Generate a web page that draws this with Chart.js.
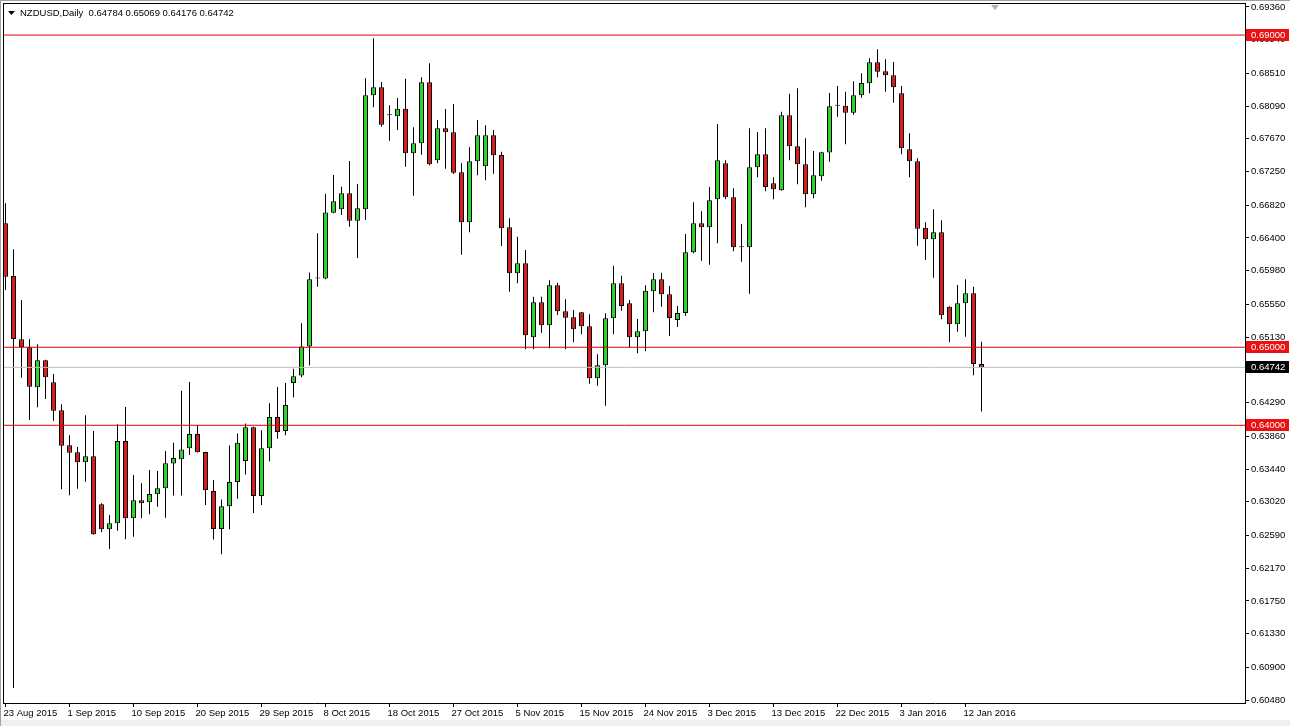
<!DOCTYPE html>
<html><head><meta charset="utf-8">
<script src="https://cdn.jsdelivr.net/npm/chart.js@4.4.1/dist/chart.umd.min.js"></script>
<style>html,body{margin:0;padding:0;background:#fff;overflow:hidden}#wrap{position:relative;width:1290px;height:726px}</style>
</head><body><div id="wrap"><canvas id="c" width="1290" height="726"></canvas></div>
<script>
const chartTitle = 'NZDUSD,Daily  0.64784 0.65069 0.64176 0.64742';
const openPrices = [0.66588,0.65913,0.65102,0.64999,0.64487,0.64833,0.64551,0.64192,0.63744,0.63654,
0.63526,0.63603,0.62988,0.62667,0.62744,0.63799,0.62808,0.63039,0.63013,0.63116,
0.63193,0.63512,0.63564,0.63706,0.63888,0.63658,0.63158,0.62671,0.62962,0.63273,
0.63542,0.63976,0.63094,0.63706,0.64106,0.63927,0.64542,0.64638,0.65010,0.65880,
0.65880,0.66724,0.66768,0.66973,0.66622,0.66768,0.68229,0.68331,0.67972,0.67959,
0.68057,0.67485,0.67613,0.68395,0.67396,0.67806,0.67754,0.67242,0.66601,0.67383,
0.67319,0.67716,0.67464,0.66537,0.65948,0.66076,0.65128,0.65576,0.65281,0.65794,
0.65461,0.65384,0.65448,0.65268,0.64602,0.64769,0.65371,0.65820,0.65563,0.65128,
0.65204,0.65717,0.65871,0.65679,0.65349,0.65439,0.66217,0.66588,0.66537,0.66896,
0.67357,0.66921,0.66281,0.66281,0.67306,0.67473,0.67101,0.67011,0.67972,0.67575,
0.67344,0.66960,0.67191,0.67496,0.68095,0.68095,0.68006,0.68229,0.68382,0.68651,
0.68536,0.68485,0.68254,0.67537,0.67383,0.66532,0.66383,0.66473,0.65520,0.65294,
0.65563,0.65691,0.64784];
const highPrices = [0.66845,0.66255,0.65606,0.65102,0.65038,0.64840,0.64657,0.64269,0.63872,0.63722,
0.64128,0.63927,0.63000,0.62850,0.64013,0.64234,0.63363,0.63257,0.63427,0.63414,
0.63671,0.63776,0.64443,0.64555,0.64001,0.63660,0.63299,0.63049,0.63741,0.63894,
0.64023,0.63980,0.63936,0.64283,0.64491,0.64542,0.64724,0.65308,0.65958,0.66460,
0.66966,0.67207,0.67057,0.67387,0.67092,0.68446,0.68959,0.68399,0.68100,0.68194,
0.68441,0.67818,0.68459,0.68639,0.67912,0.68053,0.68117,0.67357,0.67562,0.67912,
0.67844,0.67784,0.67506,0.66652,0.66417,0.66246,0.65648,0.65648,0.65858,0.65827,
0.65614,0.65477,0.65452,0.65422,0.64910,0.65435,0.66045,0.65917,0.65606,0.65362,
0.65794,0.65951,0.65955,0.65785,0.65529,0.66451,0.66857,0.66742,0.67054,0.67861,
0.67396,0.67037,0.66579,0.67806,0.67758,0.67806,0.67178,0.68018,0.68249,0.68318,
0.67678,0.67515,0.67506,0.68258,0.68348,0.68275,0.68408,0.68510,0.68703,0.68818,
0.68690,0.68655,0.68348,0.67742,0.67421,0.66601,0.66768,0.66627,0.65525,0.65798,
0.65871,0.65776,0.65069];
const lowPrices = [0.65734,0.60634,0.64610,0.64068,0.64231,0.64337,0.64059,0.63180,0.63103,0.63188,
0.63277,0.62598,0.62629,0.62415,0.62649,0.62539,0.62572,0.62808,0.62859,0.62957,
0.62816,0.63100,0.63100,0.63619,0.63652,0.62979,0.62538,0.62347,0.62668,0.63058,
0.63369,0.62876,0.62979,0.63537,0.63828,0.63872,0.64356,0.64616,0.64767,0.65776,
0.65871,0.66717,0.66695,0.66545,0.66144,0.66631,0.68075,0.67826,0.67647,0.67784,
0.67314,0.66942,0.67467,0.67332,0.67357,0.67288,0.67220,0.66186,0.66473,0.67203,
0.67139,0.67224,0.66298,0.65712,0.65820,0.64974,0.64974,0.65187,0.64987,0.65413,
0.64974,0.65063,0.65166,0.64533,0.64507,0.64251,0.65166,0.65468,0.64999,0.64923,
0.64948,0.65448,0.65520,0.65144,0.65260,0.65400,0.66204,0.66109,0.66058,0.66332,
0.66896,0.66230,0.66096,0.65686,0.67178,0.66998,0.66896,0.67005,0.67396,0.67088,
0.66793,0.66909,0.67134,0.67378,0.67954,0.67601,0.67980,0.68198,0.68254,0.68459,
0.68275,0.68134,0.67473,0.67178,0.66301,0.66118,0.65891,0.65358,0.65063,0.65199,
0.65135,0.64641,0.64176];
const closePrices = [0.65904,0.65106,0.64999,0.64494,0.64833,0.64615,0.64187,0.63738,0.63649,0.63526,
0.63603,0.62603,0.62667,0.62744,0.63799,0.62808,0.63039,0.63000,0.63120,0.63193,
0.63513,0.63581,0.63690,0.63888,0.63655,0.63171,0.62671,0.62962,0.63273,0.63776,
0.63976,0.63094,0.63706,0.64106,0.63914,0.64260,0.64629,0.65010,0.65871,0.65880,
0.66728,0.66870,0.66973,0.66622,0.66781,0.68229,0.68331,0.67852,0.67972,0.68057,
0.67485,0.67613,0.68395,0.67344,0.67806,0.67754,0.67237,0.66601,0.67383,0.67716,
0.67716,0.67460,0.66524,0.65948,0.66076,0.65153,0.65576,0.65281,0.65794,0.65461,
0.65379,0.65230,0.65268,0.64602,0.64769,0.65371,0.65820,0.65529,0.65128,0.65204,
0.65725,0.65871,0.65679,0.65375,0.65439,0.66217,0.66588,0.66537,0.66883,0.67396,
0.66921,0.66281,0.66281,0.67306,0.67473,0.67054,0.67024,0.67972,0.67575,0.67344,
0.66960,0.67203,0.67498,0.68088,0.68095,0.68006,0.68229,0.68386,0.68651,0.68531,
0.68485,0.68331,0.67549,0.67383,0.66519,0.66383,0.66473,0.65409,0.65294,0.65563,
0.65691,0.64784,0.64742];
const dateTickIndex = [0,8,16,24,32,40,48,56,64,72,80,88,96,104,112,120];
const dateTickLabels = ['23 Aug 2015','1 Sep 2015','10 Sep 2015','20 Sep 2015','29 Sep 2015','8 Oct 2015','18 Oct 2015','27 Oct 2015','5 Nov 2015','15 Nov 2015','24 Nov 2015','3 Dec 2015','13 Dec 2015','22 Dec 2015','3 Jan 2016','12 Jan 2016'];
const priceTicks = [0.69360,0.68940,0.68510,0.68090,0.67670,0.67250,0.66820,0.66400,0.65980,0.65550,0.65130,0.64710,0.64290,0.63860,0.63440,0.63020,0.62590,0.62170,0.61750,0.61330,0.60900,0.60480];
const levelLines = [0.69000, 0.65000, 0.64000];
const lastPrice = 0.64742;

const X_MIN = -0.1875, X_MAX = 154.9375;
const Y_MIN = 0.60442, Y_MAX = 0.69398;
const FONT = "'Liberation Sans', Arial, sans-serif";
const BULL = '#2bd62b', BEAR = '#d81c1c';

const idx = openPrices.map((_, i) => i);
const bodyColors = idx.map(i => closePrices[i] > openPrices[i] ? BULL : (closePrices[i] < openPrices[i] ? BEAR : '#000'));

const lineData = v => [{x: X_MIN, y: v}, {x: X_MAX, y: v}];

const datasets = [
  {type:'bar', label:'wick', data: idx.map(i => ({x:i, y:[lowPrices[i], highPrices[i]]})),
   backgroundColor:'#000', borderWidth:0, barThickness:1, grouped:false, order:3, inflateAmount:0},
  {type:'bar', label:'body', data: idx.map(i => ({x:i, y:[openPrices[i], closePrices[i]]})),
   backgroundColor: bodyColors, borderColor:'#000', borderWidth:1, borderSkipped:false,
   barThickness:5, grouped:false, order:2, inflateAmount:0, minBarLength:1},
  {type:'line', label:'last', data: lineData(lastPrice), borderColor:'#c0c0c0', borderWidth:1, pointRadius:0, order:1}
].concat(levelLines.map(v => ({type:'line', label:'lvl', data: lineData(v), borderColor:'#e00000', borderWidth:1, pointRadius:0, order:0})));

const zeroPad = s => { s.paddingLeft = 0; s.paddingRight = 0; s.paddingTop = 0; s.paddingBottom = 0; };

const decorPlugin = {
  id: 'decor',
  beforeDraw(chart) {
    const ctx = chart.ctx;
    ctx.save();
    ctx.fillStyle = '#fff';
    ctx.fillRect(0, 0, chart.width, chart.height);
    ctx.fillStyle = '#efefef';
    ctx.fillRect(0, 720, chart.width, 6);
    ctx.fillStyle = '#a0a0a0';
    ctx.fillRect(0, 0, chart.width, 1);
    ctx.fillRect(0, 0, 1, chart.height);
    ctx.restore();
  },
  afterDraw(chart) {
    const ctx = chart.ctx;
    const a = chart.chartArea;
    const ys = chart.scales.y;
    ctx.save();
    ctx.fillStyle = '#000';
    ctx.fillRect(a.left - 1, a.top - 1, a.right - a.left + 2, 1);
    ctx.fillRect(a.left - 1, a.top - 1, 1, a.bottom - a.top + 2);
    ctx.beginPath();
    ctx.moveTo(8, 11); ctx.lineTo(15, 11); ctx.lineTo(11.5, 15); ctx.closePath();
    ctx.fill();
    ctx.font = '9.5px ' + FONT;
    ctx.textBaseline = 'middle';
    ctx.textAlign = 'left';
    ctx.fillText(chartTitle, 20, 13);
    ctx.fillStyle = '#b0b0b0';
    ctx.beginPath();
    ctx.moveTo(991, 5); ctx.lineTo(999, 5); ctx.lineTo(995, 10); ctx.closePath();
    ctx.fill();
    const tag = (v, bg) => {
      const y = Math.round(ys.getPixelForValue(v));
      ctx.fillStyle = bg;
      ctx.fillRect(a.right + 1, y - 6, 43, 12);
      ctx.fillStyle = '#fff';
      ctx.fillText(v.toFixed(5), a.right + 6, y + 0.5);
    };
    levelLines.forEach(v => tag(v, '#ec1010'));
    tag(lastPrice, '#000');
    ctx.restore();
  }
};

new Chart(document.getElementById('c'), {
  type: 'bar',
  data: { datasets },
  plugins: [decorPlugin],
  options: {
    responsive: false, animation: false, devicePixelRatio: 1,
    layout: { padding: { left: 4, top: 4, right: 0, bottom: 0 } },
    plugins: { legend: { display: false }, tooltip: { enabled: false }, title: { display: false } },
    scales: {
      x: {
        type: 'linear', min: X_MIN, max: X_MAX, offset: false,
        grid: { drawOnChartArea: false, drawTicks: true, tickLength: 4, color: '#000', offset: false },
        border: { display: true, color: '#000' },
        ticks: { autoSkip: false, maxRotation: 0, minRotation: 0, align: 'start', padding: 1, labelOffset: -2, color: '#000',
          font: { family: FONT, size: 9.5 },
          callback: v => { const k = dateTickIndex.indexOf(v); return k >= 0 ? dateTickLabels[k] : ''; } },
        afterBuildTicks: s => { s.ticks = dateTickIndex.map(v => ({ value: v })); },
        afterFit: s => { s.height = 23; zeroPad(s); }
      },
      y: {
        type: 'linear', position: 'right', min: Y_MIN, max: Y_MAX,
        grid: { drawOnChartArea: false, drawTicks: true, tickLength: 4, color: '#000' },
        border: { display: true, color: '#000' },
        ticks: { autoSkip: false, padding: 2, color: '#000', font: { family: FONT, size: 9.5 },
          callback: v => Number(v).toFixed(5) },
        afterBuildTicks: s => { s.ticks = priceTicks.map(v => ({ value: v })); },
        afterFit: s => { s.width = 45; zeroPad(s); }
      }
    }
  }
});
</script>
</body></html>
